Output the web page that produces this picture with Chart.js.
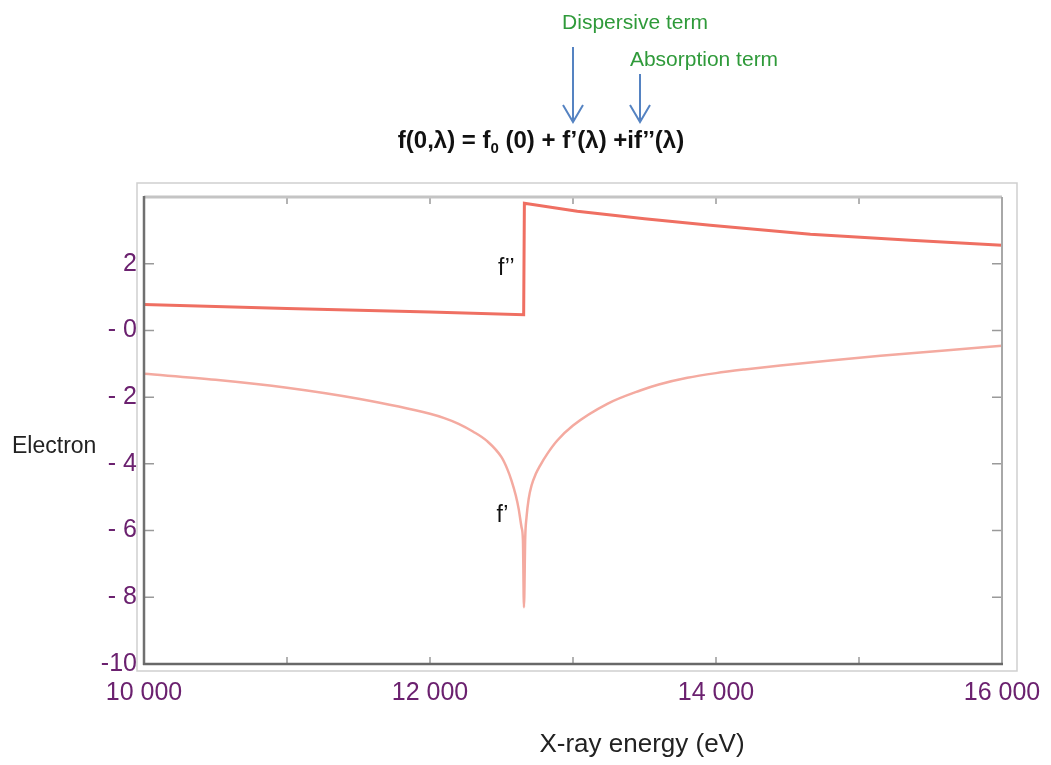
<!DOCTYPE html>
<html>
<head>
<meta charset="utf-8">
<script src="https://cdn.jsdelivr.net/npm/chart.js@4.4.1/dist/chart.umd.min.js"></script>
<style>
  html, body { margin: 0; padding: 0; background: #fff; }
  #wrap { width: 1051px; height: 765px; position: relative; }
</style>
</head>
<body>
<div id="wrap"><canvas id="canvas"></canvas></div>
<script>
// absorption term f'' (eV -> electrons), with the step at the absorption edge
const energyAbs = [10000, 11000, 12000, 12655, 12660, 13030, 13500, 13960, 14660, 15360, 16000];
const fDoublePrime = [0.78, 0.66, 0.55, 0.47, 3.81, 3.57, 3.35, 3.15, 2.88, 2.70, 2.55];

// dispersive term f' with the dip at the edge
const energyDisp = [10000, 10500, 11000, 11500, 12000, 12100, 12200, 12300, 12400, 12500, 12540, 12570, 12600,
    12620, 12640, 12650, 12657, 12666, 12675, 12690, 12710, 12740, 12770, 12820, 12890, 13000, 13240, 13470,
    13600, 13800, 14000, 14200, 14450, 14800, 15150, 15600, 16000];
const fPrime = [-1.3, -1.48, -1.72, -2.05, -2.5, -2.63, -2.8, -3.03, -3.32, -3.8, -4.15, -4.5, -4.95,
    -5.35, -5.9, -6.3, -8.3, -6.2, -5.6, -5.05, -4.65, -4.3, -4.05, -3.7, -3.3, -2.85, -2.2, -1.8,
    -1.62, -1.42, -1.28, -1.17, -1.05, -0.9, -0.76, -0.6, -0.46];

const xTickValues = [10000, 12000, 14000, 16000];
const xTickLabels = ['10 000', '12 000', '14 000', '16 000'];
const yTickValues = [4, 2, 0, -2, -4, -6, -8, -10];
const yTickLabels = ['', '2', '- 0', '- 2', '- 4', '- 6', '- 8', '-10'];

const FONT = '"Liberation Sans", Arial, sans-serif';
const PURPLE = '#6b216f';

function toPoints(xs, ys) {
    return xs.map((x, i) => ({x: x, y: ys[i]}));
}

// box, axis lines and inward tick marks on all four sides
const framePlugin = {
    id: 'frame',
    afterDatasetsDraw(chart) {
        const {ctx, chartArea: a, scales: {x, y}} = chart;
        ctx.save();

        ctx.strokeStyle = '#cfcfcf';
        ctx.lineWidth = 1.5;
        ctx.strokeRect(a.left - 7, a.top - 14, a.right - a.left + 22, a.bottom - a.top + 21);

        ctx.strokeStyle = '#9a9a9a';
        ctx.lineWidth = 1.5;
        x.ticks.forEach(t => {
            const px = x.getPixelForValue(t.value);
            ctx.beginPath();
            ctx.moveTo(px, a.bottom); ctx.lineTo(px, a.bottom - 7);
            ctx.moveTo(px, a.top); ctx.lineTo(px, a.top + 7);
            ctx.stroke();
        });
        y.ticks.forEach(t => {
            const py = y.getPixelForValue(t.value);
            ctx.beginPath();
            ctx.moveTo(a.left, py); ctx.lineTo(a.left + 10, py);
            ctx.moveTo(a.right, py); ctx.lineTo(a.right - 10, py);
            ctx.stroke();
        });

        const line = (x1, y1, x2, y2, color, w) => {
            ctx.strokeStyle = color;
            ctx.lineWidth = w;
            ctx.beginPath();
            ctx.moveTo(x1, y1);
            ctx.lineTo(x2, y2);
            ctx.stroke();
        };
        line(a.left, a.top, a.right, a.top, '#c4c4c4', 3);
        line(a.right, a.top, a.right, a.bottom, '#a8a8a8', 2);
        line(a.left, a.top - 1, a.left, a.bottom + 1, '#707070', 2.5);
        line(a.left - 1, a.bottom, a.right + 1, a.bottom, '#686868', 2.5);

        ctx.restore();
    }
};

// formula, arrows and text labels
const notesPlugin = {
    id: 'notes',
    afterDraw(chart) {
        const {ctx, scales: {x, y}} = chart;
        ctx.save();
        ctx.textBaseline = 'alphabetic';

        // formula with the subscript 0
        const parts = [
            {t: 'f(0,λ) = f', size: 24, dy: 0},
            {t: '0', size: 15, dy: 5},
            {t: ' (0) + f’(λ) +if’’(λ)', size: 24, dy: 0}
        ];
        let total = 0;
        parts.forEach(p => {
            ctx.font = `bold ${p.size}px ${FONT}`;
            p.w = ctx.measureText(p.t).width;
            total += p.w;
        });
        let cx = 541 - total / 2;
        ctx.fillStyle = '#111';
        ctx.textAlign = 'left';
        parts.forEach(p => {
            ctx.font = `bold ${p.size}px ${FONT}`;
            ctx.fillText(p.t, cx, 148 + p.dy);
            cx += p.w;
        });

        ctx.fillStyle = '#2f9a3a';
        ctx.font = `21px ${FONT}`;
        ctx.textAlign = 'center';
        ctx.fillText('Dispersive term', 635, 29);
        ctx.fillText('Absorption term', 704, 66);

        ctx.strokeStyle = '#5583c2';
        ctx.lineWidth = 2;
        [[573, 47], [640, 74]].forEach(([ax, ay]) => {
            ctx.beginPath();
            ctx.moveTo(ax, ay); ctx.lineTo(ax, 122);
            ctx.moveTo(ax - 10, 105); ctx.lineTo(ax, 122); ctx.lineTo(ax + 10, 105);
            ctx.stroke();
        });

        ctx.fillStyle = '#111';
        ctx.textAlign = 'left';
        ctx.font = `23px ${FONT}`;
        ctx.fillText('f’’', x.getPixelForValue(12475), y.getPixelForValue(1.65));
        ctx.fillText('f’', x.getPixelForValue(12465), y.getPixelForValue(-5.75));

        ctx.fillStyle = '#222';
        ctx.font = `23px ${FONT}`;
        ctx.fillText('Electron', 12, 453);

        ctx.font = `26px ${FONT}`;
        ctx.textAlign = 'center';
        ctx.fillText('X-ray energy (eV)', 642, 752);

        ctx.restore();
    }
};

const config = {
    type: 'line',
    data: {
        datasets: [
            {
                label: "f''",
                data: toPoints(energyAbs, fDoublePrime),
                borderColor: '#ef6f62',
                borderWidth: 3,
                pointRadius: 0,
                tension: 0
            },
            {
                label: "f'",
                data: toPoints(energyDisp, fPrime),
                borderColor: '#f4aaa0',
                borderWidth: 2.5,
                pointRadius: 0,
                cubicInterpolationMode: 'monotone'
            }
        ]
    },
    options: {
        responsive: true,
        maintainAspectRatio: false,
        animation: false,
        layout: {
            padding: {top: 197, right: 49, left: 0, bottom: 0}
        },
        plugins: {
            legend: {display: false},
            tooltip: {enabled: false}
        },
        scales: {
            x: {
                type: 'linear',
                min: 10000,
                max: 16000,
                grid: {display: false, drawTicks: false},
                border: {display: false},
                afterFit: (scale) => {
                    scale.height = 101;
                    scale.paddingLeft = 0;
                    scale.paddingRight = 0;
                },
                ticks: {
                    stepSize: 1000,
                    autoSkip: false,
                    maxRotation: 0,
                    padding: 14,
                    color: PURPLE,
                    font: {family: FONT, size: 25},
                    callback: (value) => {
                        const i = xTickValues.indexOf(value);
                        return i >= 0 ? xTickLabels[i] : '';
                    }
                }
            },
            y: {
                min: -10,
                max: 4,
                grid: {display: false, drawTicks: false},
                border: {display: false},
                afterFit: (scale) => { scale.width = 144; },
                ticks: {
                    stepSize: 2,
                    autoSkip: false,
                    padding: 7,
                    color: PURPLE,
                    font: {family: FONT, size: 25},
                    callback: (value) => {
                        const i = yTickValues.indexOf(value);
                        return i >= 0 ? yTickLabels[i] : '';
                    }
                }
            }
        }
    },
    plugins: [framePlugin, notesPlugin]
};

const chart = new Chart(document.getElementById('canvas'), config);
</script>
</body>
</html>
